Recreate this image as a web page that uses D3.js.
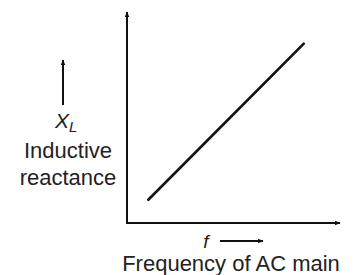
<!DOCTYPE html>
<html><head><meta charset="utf-8">
<script src="https://cdn.jsdelivr.net/npm/d3@7"></script>
<style>html,body{margin:0;padding:0;background:#fff;}svg{display:block;}</style>
</head><body>
<svg id="c" width="356" height="275"></svg>
<script>
// data
const frequency = [1.0, 8.3];
const reactance = [1.1, 8.5];
const xLabel = "Frequency of AC main";
const yLabelLines = ["Inductive", "reactance"];

const svg = d3.select("#c");
const x = d3.scaleLinear().domain([0, 10]).range([127, 340]);
const y = d3.scaleLinear().domain([0, 10]).range([223, 12]);

const defs = svg.append("defs");
defs.append("marker").attr("id","ah").attr("viewBox","0 0 10 10")
  .attr("refX",9).attr("refY",5).attr("markerWidth",6).attr("markerHeight",6)
  .attr("markerUnits","userSpaceOnUse").attr("orient","auto")
  .append("path").attr("d","M0,1 L10,5 L0,9 Z").attr("fill","#111");

// axes via d3 axis generators (no ticks)
const gx = svg.append("g").attr("transform",`translate(0,${y(0)})`)
  .call(d3.axisBottom(x).tickValues([]).tickSizeOuter(0));
const gy = svg.append("g").attr("transform",`translate(${x(0)},0)`)
  .call(d3.axisLeft(y).tickValues([]).tickSizeOuter(0));
gx.select(".domain").attr("stroke","#111").attr("stroke-width",2)
  .attr("d",`M${x(0)-1},0H${x(10)}`).attr("marker-end","url(#ah)");
gy.select(".domain").attr("stroke","#111").attr("stroke-width",2)
  .attr("d",`M0,${y(0)+1}V${y(10)}`).attr("marker-end","url(#ah)");

// data line
const pts = frequency.map((f,i)=>[f, reactance[i]]);
svg.append("path").datum(pts)
  .attr("d", d3.line().x(d=>x(d[0])).y(d=>y(d[1])))
  .attr("fill","none").attr("stroke","#111").attr("stroke-width",2.6)
  .attr("stroke-linecap","round");

const font = "'Liberation Sans', Arial, Helvetica, sans-serif";
const txtCol = "#222";

// y label
svg.append("line").attr("x1",63).attr("x2",63).attr("y1",105).attr("y2",60)
  .attr("stroke","#111").attr("stroke-width",2).attr("marker-end","url(#ah)");
const xl = svg.append("text").attr("x",55).attr("y",128)
  .attr("font-family",font).attr("font-size",21).attr("fill",txtCol);
xl.append("tspan").attr("font-style","italic").text("X");
xl.append("tspan").attr("font-style","italic").attr("font-size",15).attr("dy",4).text("L");

svg.append("text").attr("x",68).attr("y",158).attr("text-anchor","middle")
  .attr("font-family",font).attr("font-size",22).attr("fill",txtCol).text(yLabelLines[0]);
svg.append("text").attr("x",68).attr("y",185).attr("text-anchor","middle")
  .attr("font-family",font).attr("font-size",22).attr("fill",txtCol).text(yLabelLines[1]);

// x label
svg.append("text").attr("x",206).attr("y",248).attr("text-anchor","middle")
  .attr("font-family",font).attr("font-size",19).attr("font-style","italic").attr("fill",txtCol).text("f");
svg.append("line").attr("x1",220).attr("x2",263).attr("y1",241).attr("y2",241)
  .attr("stroke","#111").attr("stroke-width",2).attr("marker-end","url(#ah)");
svg.append("text").attr("x",231).attr("y",271).attr("text-anchor","middle")
  .attr("font-family",font).attr("font-size",22).attr("fill",txtCol).text(xLabel);
</script>
</body></html>
